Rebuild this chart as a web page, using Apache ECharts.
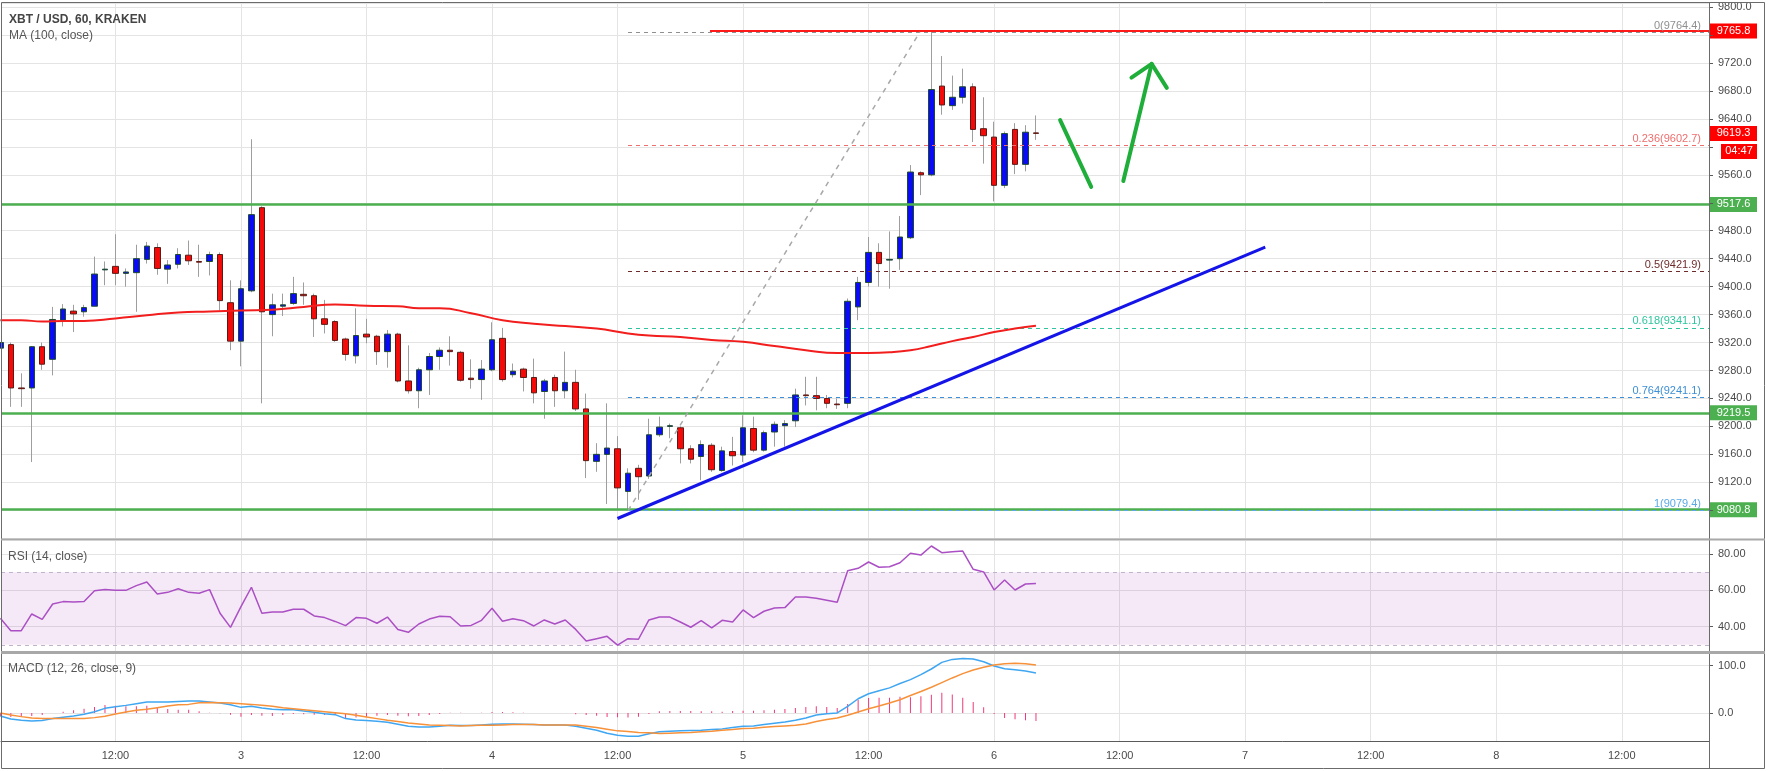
<!DOCTYPE html>
<html>
<head>
<meta charset="utf-8">
<title>XBT / USD, 60, KRAKEN</title>
<script src="https://cdn.jsdelivr.net/npm/echarts@6.0.0/dist/echarts.min.js"></script>
<style>
html,body{margin:0;padding:0;background:#ffffff;}
#chart{width:1768px;height:771px;}
</style>
</head>
<body>
<div id="chart"></div>
<script>
// ================= DATA =================
// hour index relative to day 3, 00:00 (60-minute candles)
const candleHours = [
  -23,-22,-21,-20,-19,-18,-17,-16,-15,-14,
  -13,-12,-11,-10,-9,-8,-7,-6,-5,-4,
  -3,-2,-1,0,1,2,3,4,5,6,
  7,8,9,10,11,12,13,14,15,16,
  17,18,19,20,21,22,23,24,25,26,
  27,28,29,30,31,32,33,34,35,36,
  37,38,39,40,41,42,43,44,45,46,
  47,48,49,50,51,52,53,54,55,56,
  57,58,59,60,61,62,63,64,65,66,
  67,68,69,70,71,72,73,74,75,76];
const opens = [
  9312,9317,9255,9255,9314,9296,9352,9365,9364,9372,
  9424,9429,9419,9420,9439,9456,9425,9432,9445,9436,
  9436,9446,9377,9322,9394,9513,9360,9372,9376,9389,
  9387,9354,9350,9325,9301,9332,9329,9307,9332,9265,
  9251,9281,9300,9309,9306,9269,9267,9281,9326,9274,
  9282,9270,9250,9270,9251,9263,9225,9150,9160,9168,
  9107,9140,9129,9188,9200,9198,9168,9157,9173,9137,
  9164,9159,9197,9166,9192,9201,9208,9245,9244,9240,
  9232,9233,9371,9406,9449,9438,9440,9470,9563,9560,
  9687,9659,9671,9686,9626,9614,9545,9625,9575,9620];
const closes = [
  9320,9255,9254,9314,9289,9353,9368,9361,9370,9418,
  9425,9419,9421,9440,9458,9426,9431,9446,9437,9435,
  9446,9380,9322,9397,9503,9364,9374,9374,9390,9387,
  9354,9346,9323,9303,9330,9328,9307,9332,9265,9251,
  9281,9300,9309,9307,9266,9267,9282,9324,9267,9279,
  9270,9248,9265,9251,9263,9225,9151,9160,9169,9112,
  9133,9128,9188,9199,9201,9168,9153,9174,9138,9165,
  9158,9198,9166,9191,9203,9204,9245,9244,9240,9233,
  9231,9379,9406,9449,9433,9439,9471,9564,9560,9682,
  9660,9671,9686,9625,9616,9545,9619,9575,9621,9619.3];
const lows = [
  9305,9228,9228,9149,9281,9273,9343,9335,9357,9372,
  9402,9402,9400,9364,9433,9417,9404,9426,9431,9414,
  9416,9366,9309,9286,9392,9233,9329,9358,9374,9374,
  9328,9333,9321,9294,9290,9319,9288,9284,9263,9247,
  9226,9245,9281,9287,9264,9254,9238,9279,9264,9270,
  9250,9233,9211,9228,9240,9222,9126,9135,9089,9081,
  9079.4,9095,9125,9185,9183,9147,9147,9123,9135,9135,
  9144,9149,9163,9164,9171,9171,9199,9230,9223,9226,
  9225,9226,9352,9400,9400,9397,9424,9468,9531,9558,
  9646,9653,9662,9607,9576,9522,9541,9561,9565,9610];
const highs = [
  9325,9320,9276,9315,9320,9371,9375,9374,9374,9443,
  9436,9475,9426,9460,9464,9462,9438,9455,9466,9460,
  9450,9449,9409,9409,9611,9515,9390,9390,9414,9406,
  9390,9381,9352,9327,9369,9354,9331,9338,9334,9316,
  9284,9305,9313,9329,9308,9296,9295,9349,9341,9290,
  9284,9297,9268,9274,9307,9281,9247,9176,9233,9186,
  9140,9145,9211,9214,9204,9200,9173,9180,9176,9171,
  9185,9216,9214,9194,9207,9209,9254,9271,9271,9245,
  9240,9383,9414,9471,9462,9479,9501,9574,9565,9765.8,
  9730,9702,9712,9691,9671,9636,9622,9634,9631,9645];

// MA(100, close) read at selected hours
const maHours  = [-23,-21,-19,-17,-15,-12,-9,-6,-3,0,3,6,9,12,15,17,19,22,25,28,31,34,37,39,42,45,48,51,54,57,60,62,64,66,68,70,72,74,76];
const maValues = [9352,9352,9350,9351,9351,9354.5,9359,9363,9364.5,9366,9367,9371,9374.5,9372.5,9372,9369,9369,9362,9352,9347,9343.5,9340,9333,9330,9328,9323.6,9321,9315,9309,9305,9305,9306,9309,9315,9322,9328,9335,9340,9344];

// RSI(14, close) per candle
const rsiValues = [
  44.6,37.8,37.8,47.0,44.0,52.5,53.8,53.6,53.9,59.8,
  60.4,60.0,60.0,62.6,64.6,58.0,58.9,60.9,58.9,58.4,
  60.4,47.4,39.6,51.0,61.7,47.4,48.1,48.1,49.6,49.6,
  45.9,45.0,42.9,40.6,45.0,44.6,41.9,45.3,38.5,36.9,
  41.5,44.2,45.7,45.5,40.4,40.7,43.5,50.1,43.0,44.4,
  43.3,40.4,43.7,41.5,43.7,38.5,32.1,33.4,34.7,29.9,
  33.4,33.1,43.7,45.3,45.3,42.6,39.7,43.3,39.3,43.5,
  42.6,49.2,45.0,48.5,50.3,50.5,56.3,56.3,55.6,54.5,
  53.4,70.8,72.1,75.6,72.7,73.0,75.2,80.4,79.4,84.4,
  80.7,81.3,81.6,71.6,70.1,60.2,65.7,60.2,63.5,63.7];

// MACD(12, 26, close, 9) per candle
const macdValues = [
  -6.3,-12.6,-15.4,-16.8,-16.1,-11.9,-9.1,-6.3,-2.8,2.8,
  9.8,13.3,16.1,19.6,23.1,23.1,23.1,24.5,25.2,25.2,
  23.1,21.0,17.5,11.9,14.0,10.5,7.7,7.0,7.0,4.2,
  1.4,-1.4,-3.5,-11.9,-14.7,-16.1,-17.5,-19.6,-23.8,-28.0,
  -29.4,-29.4,-28.0,-25.9,-26.6,-26.6,-25.2,-23.8,-23.1,-23.1,
  -23.8,-24.5,-25.2,-25.2,-25.2,-28.0,-32.2,-36.4,-42.7,-46.9,
  -49.0,-49.0,-44.1,-39.9,-38.5,-37.8,-37.1,-36.4,-35.0,-33.6,
  -30.8,-28.0,-27.3,-24.5,-21.7,-18.9,-15.4,-10.5,-4.2,-1.4,
  0,14.0,30.1,40.6,46.9,53.1,62.2,70.6,81.1,93.0,
  107.0,113.3,115.4,114.0,108.4,99.3,93.7,91.6,88.8,84.6];
const signalValues = [
  0,-4.2,-7.7,-10.5,-11.9,-11.9,-11.9,-11.9,-11.9,-9.8,
  -7.0,-2.1,2.1,5.6,7.7,11.2,14.7,17.5,18.2,21.7,
  22.4,21.7,21.0,19.6,18.2,16.1,14.0,11.2,9.1,7.0,
  4.9,2.8,0.7,-1.4,-4.9,-8.4,-11.9,-15.4,-18.2,-21.0,
  -23.1,-25.2,-25.9,-26.6,-27.3,-26.6,-25.9,-25.9,-25.2,-24.5,
  -24.5,-24.5,-25.2,-25.2,-25.2,-25.2,-28.0,-30.8,-34.3,-37.8,
  -39.2,-41.3,-42.0,-43.4,-42.7,-42.0,-41.3,-39.9,-38.5,-36.4,
  -35.0,-32.9,-32.2,-30.1,-28.7,-27.3,-25.9,-23.1,-18.2,-14.0,
  -10.5,-4.9,2.1,9.1,14.7,21.0,28.0,37.1,45.5,54.5,
  64.3,74.1,83.2,90.9,96.5,101.4,104.2,104.9,104.2,101.4];
const histValues = [
  -6.3,-8.4,-7.7,-6.3,-4.2,0,2.8,5.6,9.1,12.6,
  16.8,15.4,14.0,14.0,15.4,11.9,8.4,7.0,7.0,3.5,
  0.7,-0.7,-3.5,-7.7,-4.2,-5.6,-6.3,-4.2,-2.1,-2.8,
  -3.5,-4.2,-4.2,-10.5,-9.8,-7.7,-5.6,-4.2,-5.6,-7.0,
  -6.3,-4.2,-2.1,0.7,0.7,0,0.7,2.1,2.1,1.4,
  0.7,0,0,0,0,-2.8,-4.2,-5.6,-8.4,-9.1,
  -9.8,-7.7,-2.1,3.5,4.2,4.2,4.2,3.5,3.5,2.8,
  4.2,4.9,4.9,5.6,7.0,8.4,10.5,12.6,14.0,12.6,
  10.5,18.9,28.0,31.5,32.2,32.1,34.2,33.5,35.6,38.5,
  42.7,39.2,32.2,23.1,11.9,-2.1,-10.5,-13.3,-15.4,-16.8];

// time axis ticks
const timeTickHours  = [-12,0,12,24,36,48,60,72,84,96,108,120,132];
const timeTickLabels = ['12:00','3','12:00','4','12:00','5','12:00','6','12:00','7','12:00','8','12:00'];

// price levels and drawings
const hiddenPriceLabels = [9760, 9600, 9520, 9080, 9040];
const supportLevels = [9517.6, 9219.5, 9080.8];
const resistanceLevel = 9765.8;
const resistanceStartHour = 44.84;
const lastPrice = 9619.3;
const countdownText = '04:47';
const fibRatios = ['0', '0.236', '0.5', '0.618', '0.764', '1'];
const fibPrices = [9764.4, 9602.7, 9421.9, 9341.1, 9241.1, 9079.4];
const fibStartHour = 37;
const fibDiagHours = [37, 64.9];
const fibDiagPrices = [9079.4, 9764.4];
const trendHours = [35.99, 97.92];
const trendPrices = [9068.2, 9456.4];
const arrowDownHours = [78.31, 81.28];
const arrowDownPrices = [9638.4, 9542.7];
const arrowUpHours = [84.35, 87.06];
const arrowUpPrices = [9551.1, 9718.8];
const arrowHeadHours = [85.13, 87.06, 88.51];
const arrowHeadPrices = [9699.1, 9718.8, 9684.4];

// ================= STYLE / LAYOUT =================
const X_MIN = -22.94, X_MAX = 140.34;
const FONT = '"Liberation Sans", Arial, sans-serif';
const GRID_COLOR = '#e4e4e4';
const AXIS_COLOR = '#5a5a5a';
const LABEL_COLOR = '#4a4a4a';
const fibColors = ['#8f8f8f', '#ee6e6e', '#6e2b2b', '#2fc4a0', '#3d8fd6', '#5aa9e6'];

const zip = (xs, ys) => xs.map((x, i) => [x, ys[i]]);

const wickData = candleHours.map((h, i) => [h, opens[i], closes[i], lows[i], highs[i]]);
const bodyData = candleHours.map((h, i) => [h, opens[i], closes[i], Math.min(opens[i], closes[i]), Math.max(opens[i], closes[i])]);

function xAxis(gridIndex, bottom) {
  return {
    type: 'value', gridIndex, min: X_MIN, max: X_MAX,
    axisLine: { show: bottom, onZero: false, lineStyle: { color: AXIS_COLOR, width: 1 } },
    axisTick: { show: false, customValues: timeTickHours },
    splitLine: { show: true, lineStyle: { color: GRID_COLOR, width: 1 } },
    axisLabel: {
      show: bottom, customValues: timeTickHours, hideOverlap: false,
      formatter: v => timeTickLabels[timeTickHours.indexOf(v)] || '',
      color: LABEL_COLOR, fontSize: 11, fontFamily: FONT, margin: 9
    }
  };
}

const chart = echarts.init(document.getElementById('chart'), null, { renderer: 'canvas' });

const fibMarkData = fibPrices.map((p, i) => [
  { coord: [fibStartHour, p], lineStyle: { color: fibColors[i] },
    label: { formatter: fibRatios[i] + '(' + p.toFixed(1) + ')', color: fibColors[i] } },
  { coord: [X_MAX, p] }
]);

const option = {
  animation: false,
  backgroundColor: '#ffffff',
  grid: [
    { left: 1, top: 3, width: 1708, height: 535.2, outerBoundsMode: 'none', containLabel: false },
    { left: 1, top: 541, width: 1708, height: 110, outerBoundsMode: 'none', containLabel: false },
    { left: 1, top: 654, width: 1708, height: 87.7, outerBoundsMode: 'none', containLabel: false }
  ],
  xAxis: [xAxis(0, false), xAxis(1, false), xAxis(2, true)],
  yAxis: [
    {
      type: 'value', gridIndex: 0, position: 'right', min: 9040, max: 9805.9, interval: 40,
      axisLine: { show: true, onZero: false, lineStyle: { color: AXIS_COLOR } },
      axisTick: { show: true, length: 4, lineStyle: { color: AXIS_COLOR } },
      splitLine: { show: true, lineStyle: { color: GRID_COLOR } },
      axisLabel: {
        color: LABEL_COLOR, fontSize: 11, fontFamily: FONT, margin: 9, hideOverlap: false,
        showMaxLabel: false, showMinLabel: false,
        formatter: v => (Math.abs(v % 40) > 0.001 || hiddenPriceLabels.indexOf(Math.round(v)) >= 0) ? '' : v.toFixed(1)
      }
    },
    {
      type: 'value', gridIndex: 1, position: 'right', min: 26.63, max: 87.15,
      axisLine: { show: true, onZero: false, lineStyle: { color: AXIS_COLOR } },
      axisTick: { show: true, length: 4, customValues: [40, 60, 80], lineStyle: { color: AXIS_COLOR } },
      splitLine: { show: true, lineStyle: { color: GRID_COLOR } },
      axisLabel: { customValues: [40, 60, 80], color: LABEL_COLOR, fontSize: 11, fontFamily: FONT, margin: 9,
        formatter: v => v.toFixed(2) }
    },
    {
      type: 'value', gridIndex: 2, position: 'right', min: -60.7, max: 124.7,
      axisLine: { show: true, onZero: false, lineStyle: { color: AXIS_COLOR } },
      axisTick: { show: true, length: 4, customValues: [0, 100], lineStyle: { color: AXIS_COLOR } },
      splitLine: { show: true, lineStyle: { color: GRID_COLOR } },
      axisLabel: { customValues: [0, 100], color: LABEL_COLOR, fontSize: 11, fontFamily: FONT, margin: 9,
        formatter: v => v.toFixed(1) }
    }
  ],
  series: [
    // support / resistance horizontal lines (drawn under candles)
    {
      type: 'line', name: 'levels', xAxisIndex: 0, yAxisIndex: 0, data: zip(fibDiagHours, fibDiagPrices),
      showSymbol: false, lineStyle: { opacity: 0 }, z: 2, silent: true,
      markLine: {
        silent: true, symbol: ['none', 'none'], label: { show: false }, animation: false,
        data: supportLevels.map(p => ({ yAxis: p, lineStyle: { color: '#4caf50', width: 2.5, type: 'solid' } }))
          .concat([[{ coord: [resistanceStartHour, resistanceLevel], lineStyle: { color: '#ff1a1a', width: 2, type: 'solid' } },
                    { coord: [X_MAX, resistanceLevel] }]])
      }
    },
    // candle wicks
    {
      type: 'candlestick', name: 'wicks', xAxisIndex: 0, yAxisIndex: 0, data: wickData,
      barWidth: 0.01, z: 3, silent: true,
      itemStyle: { color: '#9e9e9e', color0: '#9e9e9e', borderColor: '#9e9e9e', borderColor0: '#9e9e9e', borderColorDoji: '#9e9e9e', borderWidth: 1 }
    },
    // candle bodies
    {
      type: 'candlestick', name: 'XBT/USD', xAxisIndex: 0, yAxisIndex: 0, data: bodyData,
      barWidth: 6, z: 4, silent: true,
      itemStyle: { color: '#0a0af5', color0: '#f50a0a', borderColor: '#1d4a2c', borderColor0: '#5b1a13', borderColorDoji: '#1d4a2c', borderWidth: 1 }
    },
    // MA 100
    {
      type: 'line', name: 'MA', xAxisIndex: 0, yAxisIndex: 0, data: zip(maHours, maValues),
      smooth: true, showSymbol: false, z: 5, silent: true,
      lineStyle: { color: '#f21d1d', width: 2 }
    },
    // fib diagonal + fib levels
    {
      type: 'line', name: 'fib', xAxisIndex: 0, yAxisIndex: 0, data: zip(fibDiagHours, fibDiagPrices),
      showSymbol: false, z: 6, silent: true,
      lineStyle: { color: '#a8a8a8', width: 1.5, type: [5, 5] },
      markLine: {
        silent: true, symbol: ['none', 'none'], animation: false,
        lineStyle: { type: [4, 4], width: 1 },
        label: { show: true, position: 'insideEndTop', fontSize: 11, fontFamily: FONT, distance: [8, 1] },
        data: fibMarkData
      }
    },
    // ascending trend line
    {
      type: 'line', name: 'trend', xAxisIndex: 0, yAxisIndex: 0, data: zip(trendHours, trendPrices),
      showSymbol: false, z: 7, silent: true,
      lineStyle: { color: '#1414e8', width: 3 }
    },
    // green arrows
    {
      type: 'line', name: 'arrowDown', xAxisIndex: 0, yAxisIndex: 0, data: zip(arrowDownHours, arrowDownPrices),
      showSymbol: false, z: 7, silent: true, lineStyle: { color: '#1fae3a', width: 4, cap: 'round' }
    },
    {
      type: 'line', name: 'arrowUp', xAxisIndex: 0, yAxisIndex: 0, data: zip(arrowUpHours, arrowUpPrices),
      showSymbol: false, z: 7, silent: true, lineStyle: { color: '#1fae3a', width: 4, cap: 'round' }
    },
    {
      type: 'line', name: 'arrowHead', xAxisIndex: 0, yAxisIndex: 0, data: zip(arrowHeadHours, arrowHeadPrices),
      showSymbol: false, z: 7, silent: true, lineStyle: { color: '#1fae3a', width: 4, cap: 'round', join: 'round' }
    },
    // RSI
    {
      type: 'line', name: 'RSI', xAxisIndex: 1, yAxisIndex: 1, data: zip(candleHours, rsiValues),
      showSymbol: false, z: 5, silent: true,
      lineStyle: { color: '#ab4fc4', width: 1.5 },
      markArea: {
        silent: true, itemStyle: { color: 'rgba(156, 39, 176, 0.1)' },
        data: [[{ yAxis: 70 }, { yAxis: 30 }]]
      },
      markLine: {
        silent: true, symbol: ['none', 'none'], label: { show: false },
        lineStyle: { color: '#c2b3cc', type: [4, 4], width: 1 },
        data: [{ yAxis: 70 }, { yAxis: 30 }]
      }
    },
    // MACD histogram
    {
      type: 'bar', name: 'Histogram', xAxisIndex: 2, yAxisIndex: 2, data: zip(candleHours, histValues),
      barWidth: 1, z: 3, silent: true, itemStyle: { color: '#f0397a' }
    },
    {
      type: 'line', name: 'MACD', xAxisIndex: 2, yAxisIndex: 2, data: zip(candleHours, macdValues),
      showSymbol: false, z: 5, silent: true, lineStyle: { color: '#3fa6f2', width: 1.5 }
    },
    {
      type: 'line', name: 'Signal', xAxisIndex: 2, yAxisIndex: 2, data: zip(candleHours, signalValues),
      showSymbol: false, z: 5, silent: true, lineStyle: { color: '#f7913a', width: 1.5 }
    }
  ]
};

chart.setOption(option);

// axis price tags & frame
function priceTag(price, color, text, dy, xLeft, w) {
  const y = chart.convertToPixel({ yAxisIndex: 0 }, price) + (dy || 0);
  const x0 = xLeft || 1710, width = w || 47;
  return {
    type: 'group', z: 100, silent: true,
    children: [
      { type: 'rect', shape: { x: x0, y: y - 7.5, width: width, height: 15 }, style: { fill: color } },
      { type: 'text', style: { x: x0 + width / 2, y: y, text: text, fill: '#ffffff', font: '11px ' + FONT, align: 'center', verticalAlign: 'middle' } }
    ]
  };
}

const graphics = [
  { type: 'rect', z: 90, silent: true, shape: { x: 1.5, y: 2.5, width: 1763, height: 766 }, style: { fill: 'none', stroke: '#6b6b6b', lineWidth: 1 } },
  { type: 'line', z: 90, silent: true, shape: { x1: 1709.5, y1: 3, x2: 1709.5, y2: 768 }, style: { stroke: '#6b6b6b', lineWidth: 1 } },
  { type: 'line', z: 90, silent: true, shape: { x1: 1, y1: 539.5, x2: 1765, y2: 539.5 }, style: { stroke: '#a8a8a8', lineWidth: 2 } },
  { type: 'line', z: 90, silent: true, shape: { x1: 1, y1: 652.5, x2: 1765, y2: 652.5 }, style: { stroke: '#a8a8a8', lineWidth: 3 } },
  { type: 'text', z: 100, silent: true, x: 9, y: 20, style: { text: 'XBT / USD, 60, KRAKEN', font: 'bold 12px ' + FONT, fill: '#454545', verticalAlign: 'middle' } },
  { type: 'text', z: 100, silent: true, x: 9, y: 36, style: { text: 'MA (100, close)', font: '12px ' + FONT, fill: '#555555', verticalAlign: 'middle' } },
  { type: 'text', z: 100, silent: true, x: 8, y: 557, style: { text: 'RSI (14, close)', font: '12px ' + FONT, fill: '#555555', verticalAlign: 'middle' } },
  { type: 'text', z: 100, silent: true, x: 8, y: 669, style: { text: 'MACD (12, 26, close, 9)', font: '12px ' + FONT, fill: '#555555', verticalAlign: 'middle' } },
  priceTag(resistanceLevel, '#ff0000', resistanceLevel.toFixed(1)),
  priceTag(lastPrice, '#ff0000', lastPrice.toFixed(1)),
  priceTag(lastPrice, '#ff0000', countdownText, 18, 1721, 36)
].concat(supportLevels.map(p => priceTag(p, '#4caf50', p.toFixed(1))));

chart.setOption({ graphic: graphics });
</script>
</body>
</html>
